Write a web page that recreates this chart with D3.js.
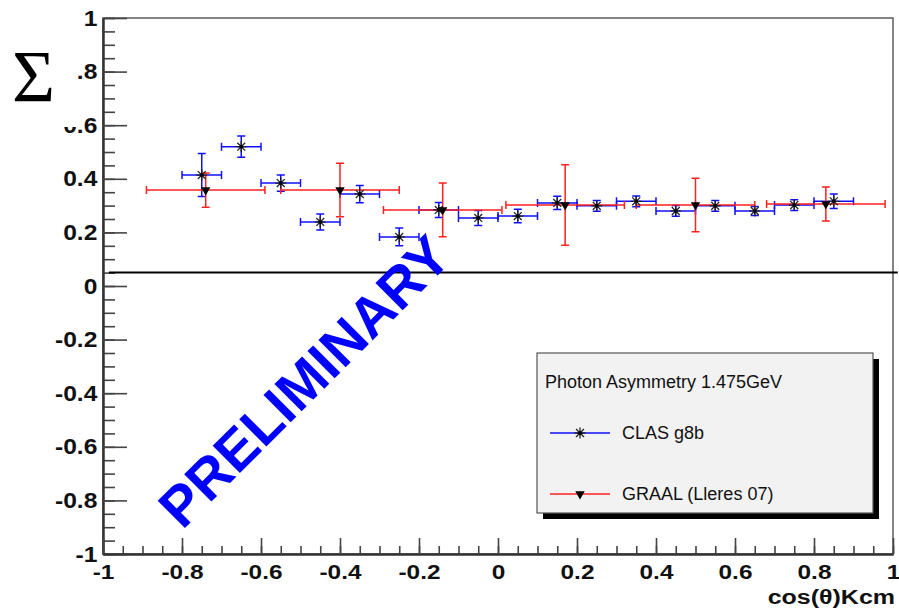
<!DOCTYPE html>
<html>
<head>
<meta charset="utf-8">
<script src="https://cdn.jsdelivr.net/npm/d3@7"></script>
<style>
  body { margin: 0; background: #fff; }
  svg text { font-family: "Liberation Sans", Arial, sans-serif; }
  svg text.sigma { font-family: "Liberation Serif", "Times New Roman", serif; }
</style>
</head>
<body>
<div id="chart"></div>
<script>
// CLAS g8b points
const clasX = [-0.75, -0.65, -0.55, -0.45, -0.35, -0.25, -0.15, -0.05, 0.05, 0.15, 0.25, 0.35, 0.45, 0.55, 0.65, 0.75, 0.85];
const clasY = [0.414, 0.520, 0.384, 0.239, 0.343, 0.183, 0.284, 0.254, 0.261, 0.310, 0.299, 0.316, 0.280, 0.299, 0.280, 0.302, 0.316];
const clasErrY = [0.08, 0.04, 0.03, 0.03, 0.032, 0.033, 0.028, 0.028, 0.025, 0.025, 0.02, 0.02, 0.02, 0.02, 0.017, 0.02, 0.027];
const clasErrX = [0.05, 0.05, 0.05, 0.05, 0.05, 0.05, 0.05, 0.05, 0.05, 0.05, 0.05, 0.05, 0.05, 0.05, 0.05, 0.05, 0.05];

// GRAAL (Lleres 07) points
const graalX = [-0.74, -0.40, -0.14, 0.17, 0.50, 0.83];
const graalY = [0.358, 0.358, 0.284, 0.302, 0.302, 0.306];
const graalErrY = [0.064, 0.10, 0.10, 0.15, 0.10, 0.063];
const graalErrX = [0.15, 0.15, 0.15, 0.15, 0.15, 0.15];

const xTickValues = [-1, -0.8, -0.6, -0.4, -0.2, 0, 0.2, 0.4, 0.6, 0.8, 1];
const yTickValues = [-1, -0.8, -0.6, -0.4, -0.2, 0, 0.2, 0.4, 0.6, 0.8, 1];
const minorTickValues = d3.range(-20, 21).map(i => i / 20);

const refLineY = 0.05;
const refLineX = [-0.985, 1.012];

const legendTitle = "Photon Asymmetry 1.475GeV";
const seriesNames = ["CLAS g8b", "GRAAL (Lleres 07)"];

const width = 899, height = 611;
const margin = { left: 103, right: 6, top: 18, bottom: 57 };

const svg = d3.select("#chart").append("svg")
    .attr("width", width)
    .attr("height", height);

const x = d3.scaleLinear().domain([-1, 1]).range([margin.left, width - margin.right]);
const y = d3.scaleLinear().domain([-1, 1]).range([height - margin.bottom, margin.top]);

const fmt = d => String(Math.round(d * 10) / 10);

// frame
svg.append("rect")
    .attr("x", x(-1)).attr("y", y(1))
    .attr("width", x(1) - x(-1)).attr("height", y(-1) - y(1))
    .attr("fill", "none").attr("stroke", "#666").attr("stroke-width", 1.6);

// y axis
svg.append("g").attr("transform", `translate(${x(-1)},0)`)
    .call(d3.axisLeft(y).tickValues(minorTickValues).tickSize(-12).tickSizeOuter(0).tickFormat(""));
const yAxis = svg.append("g").attr("transform", `translate(${x(-1)},0)`)
    .call(d3.axisLeft(y).tickValues(yTickValues).tickSize(-24).tickSizeOuter(0).tickPadding(5).tickFormat(fmt));

// x axis
svg.append("g").attr("transform", `translate(0,${y(-1)})`)
    .call(d3.axisBottom(x).tickValues(minorTickValues).tickSize(-8).tickSizeOuter(0).tickFormat(""));
const xAxis = svg.append("g").attr("transform", `translate(0,${y(-1)})`)
    .call(d3.axisBottom(x).tickValues(xTickValues).tickSize(-16).tickSizeOuter(0).tickPadding(11).tickFormat(fmt));

svg.selectAll(".domain").attr("stroke", "#333").attr("stroke-width", 2);
svg.selectAll(".tick line").attr("stroke", "#444").attr("stroke-width", 1.6);
yAxis.selectAll(".tick text")
    .attr("font-size", 22).attr("font-weight", "bold").attr("fill", "#111")
    .attr("transform", "scale(1.12,1)");
xAxis.selectAll(".tick text")
    .attr("font-size", 20).attr("font-weight", "bold").attr("fill", "#111")
    .attr("transform", "scale(1.22,1)");

// axis title
svg.append("text")
    .attr("transform", `translate(${x(1) + 2},604) scale(1.25,1)`)
    .attr("text-anchor", "end")
    .attr("font-size", 20).attr("font-weight", "bold").attr("fill", "#111")
    .text("cos(θ)Kcm");

// reference line
svg.append("line")
    .attr("x1", x(refLineX[0])).attr("x2", x(refLineX[1]))
    .attr("y1", y(refLineY)).attr("y2", y(refLineY))
    .attr("stroke", "#000").attr("stroke-width", 2);

// error bars
function drawErrors(xs, ys, ex, ey, color) {
    const g = svg.append("g").attr("stroke", color).attr("stroke-width", 1.5).attr("fill", "none");
    const cap = 4;
    xs.forEach((xv, i) => {
        const cx = x(xv), cy = y(ys[i]);
        const x0 = x(xv - ex[i]), x1 = x(xv + ex[i]);
        const y0 = y(ys[i] - ey[i]), y1 = y(ys[i] + ey[i]);
        g.append("path").attr("d",
            `M${x0},${cy}H${x1}` +
            `M${x0},${cy - cap}V${cy + cap}M${x1},${cy - cap}V${cy + cap}` +
            `M${cx},${y0}V${y1}` +
            `M${cx - cap},${y0}H${cx + cap}M${cx - cap},${y1}H${cx + cap}`);
    });
}
drawErrors(clasX, clasY, clasErrX, clasErrY, "#1010ff");
drawErrors(graalX, graalY, graalErrX, graalErrY, "#ff2020");

// markers
function asterisk(g, cx, cy) {
    const r = 5.5, d = r * 0.72;
    g.append("path")
        .attr("d", `M${cx - r},${cy}H${cx + r}M${cx},${cy - r}V${cy + r}` +
            `M${cx - d},${cy - d}L${cx + d},${cy + d}M${cx - d},${cy + d}L${cx + d},${cy - d}`)
        .attr("stroke", "#222").attr("stroke-width", 1.3).attr("fill", "none");
    g.append("circle").attr("cx", cx).attr("cy", cy).attr("r", 1.8).attr("fill", "#000");
}
function triDown(g, cx, cy) {
    g.append("path")
        .attr("d", d3.symbol().type(d3.symbolTriangle).size(38)())
        .attr("transform", `translate(${cx},${cy}) rotate(180)`)
        .attr("fill", "#000");
}
const mk = svg.append("g");
clasX.forEach((xv, i) => asterisk(mk, x(xv), y(clasY[i])));
graalX.forEach((xv, i) => triDown(mk, x(xv), y(graalY[i])));

// PRELIMINARY
svg.append("text")
    .attr("transform", "translate(318,395) rotate(-45)")
    .attr("text-anchor", "middle")
    .attr("font-size", 56).attr("font-weight", "bold")
    .attr("fill", "#0000ff")
    .text("PRELIMINARY");

// legend
const lg = svg.append("g");
lg.append("rect").attr("x", 543).attr("y", 359).attr("width", 336).attr("height", 160).attr("fill", "#000");
lg.append("rect").attr("x", 537).attr("y", 353).attr("width", 336).attr("height", 160)
    .attr("fill", "#f2f2f2").attr("stroke", "#555").attr("stroke-width", 1.2);
lg.append("text").attr("x", 545).attr("y", 388).attr("font-size", 18).attr("fill", "#111").text(legendTitle);
const legColors = ["#1010ff", "#ff2020"];
const legY = [433, 494];
seriesNames.forEach((name, i) => {
    lg.append("line").attr("x1", 550).attr("x2", 610).attr("y1", legY[i]).attr("y2", legY[i])
        .attr("stroke", legColors[i]).attr("stroke-width", 1.5);
    if (i === 0) asterisk(lg, 580, legY[i]); else triDown(lg, 580, legY[i]);
    lg.append("text").attr("x", 622).attr("y", legY[i]).attr("dy", "0.36em")
        .attr("font-size", 18).attr("fill", "#111").text(name);
});

// sigma overlay box
svg.append("rect").attr("x", 0).attr("y", 0).attr("width", 77).attr("height", 127).attr("fill", "#fff");
svg.append("text")
    .attr("class", "sigma")
    .attr("x", 12).attr("y", 102)
    .attr("font-size", 74).attr("fill", "#000")
    .text("Σ");
</script>
</body>
</html>
